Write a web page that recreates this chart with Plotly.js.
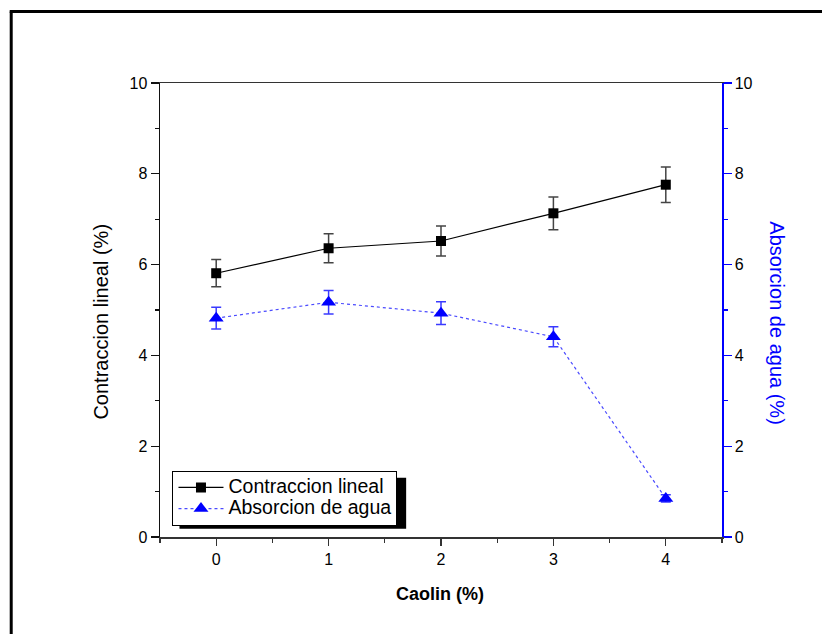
<!DOCTYPE html>
<html>
<head>
<meta charset="utf-8">
<script src="https://cdn.plot.ly/plotly-3.0.1.min.js"></script>
<style>html,body{margin:0;padding:0;background:#fff;}#chart{width:822px;height:634px;}</style>
</head>
<body>
<div id="chart"></div>
<script>
const caolin = [0, 1, 2, 3, 4];
const contraccion = [5.81, 6.36, 6.52, 7.13, 7.76];
const contraccionErr = [0.30, 0.32, 0.33, 0.36, 0.39];
const absorcion = [4.82, 5.17, 4.93, 4.41, 0.85];
const absorcionErr = [0.24, 0.26, 0.25, 0.22, 0.08];
const yTicks = [0, 2, 4, 6, 8, 10];
const xTicks = [0, 1, 2, 3, 4];
const seriesNames = ['Contraccion lineal', 'Absorcion de agua'];

const FONT = 'Liberation Sans, Arial, sans-serif';
const big = s => '<span style="font-size:19.5px">' + s + '</span>';

const traces = [
  {
    x: caolin, y: contraccion, name: big(seriesNames[0]), type: 'scatter', mode: 'lines+markers',
    line: {color: '#000', width: 1.2},
    marker: {symbol: 'square', size: 10, color: '#000'},
    error_y: {type: 'data', array: contraccionErr, visible: true, color: '#444', thickness: 1.5, width: 5},
    xaxis: 'x', yaxis: 'y'
  },
  {
    x: caolin, y: absorcion, name: big(seriesNames[1]), type: 'scatter', mode: 'lines+markers',
    line: {color: '#4a4aff', width: 1.2, dash: 'dot'},
    marker: {symbol: 'triangle-up', size: 13, color: '#0000ff'},
    error_y: {type: 'data', array: absorcionErr, visible: true, color: '#3a3aff', thickness: 1.5, width: 5},
    xaxis: 'x', yaxis: 'y2'
  }
];

const L = 159.5, R = 822 - 722.3, T = 82.7, B = 634 - 537.3;
const W = 822 - L - R, H = 634 - T - B;
const px = v => (v - L) / W;
const py = v => (634 - B - v) / H;

const layout = {
  width: 822, height: 634,
  margin: {l: L, r: R, t: T, b: B, pad: 0},
  paper_bgcolor: '#fff', plot_bgcolor: '#fff',
  font: {family: FONT, size: 16, color: '#000'},
  showlegend: true,
  legend: {
    x: px(172), y: py(471), xanchor: 'left', yanchor: 'top',
    bgcolor: '#fff', bordercolor: '#000', borderwidth: 1,
    font: {family: FONT, size: 14, color: '#000'},
    tracegroupgap: 0, itemwidth: 45
  },
  xaxis: {
    range: [-0.5, 4.5], tickvals: xTicks, ticktext: xTicks.map(String),
    showgrid: false, zeroline: false,
    showline: true, linecolor: '#333', linewidth: 1.5, mirror: true,
    ticks: 'outside', ticklen: 7, tickwidth: 1.2, tickcolor: '#333',
    minor: {dtick: 0.5, tick0: -0.5, ticks: 'outside', ticklen: 4, tickwidth: 1.2, tickcolor: '#333', showgrid: false},
    tickfont: {family: FONT, size: 16, color: '#000'}
  },
  yaxis: {
    range: [0, 10], tickvals: yTicks, ticktext: yTicks.map(String),
    showgrid: false, zeroline: false,
    showline: true, linecolor: '#111', linewidth: 1.5,
    ticks: 'outside', ticklen: 8, tickwidth: 1.2, tickcolor: '#111',
    minor: {dtick: 1, ticks: 'outside', ticklen: 4, tickwidth: 1.2, tickcolor: '#111', showgrid: false},
    tickfont: {family: FONT, size: 16, color: '#000'}
  },
  yaxis2: {
    range: [0, 10], tickvals: yTicks, ticktext: yTicks.map(String),
    overlaying: 'y', side: 'right', anchor: 'x',
    showgrid: false, zeroline: false,
    showline: true, linecolor: '#0000ff', linewidth: 1.5,
    ticks: 'outside', ticklen: 8, tickwidth: 1.2, tickcolor: '#0000ff',
    minor: {dtick: 1, ticks: 'outside', ticklen: 4, tickwidth: 1.2, tickcolor: '#0000ff', showgrid: false},
    tickfont: {family: FONT, size: 16, color: '#000'}
  },
  annotations: [
    {text: 'Contraccion lineal (%)', xref: 'paper', yref: 'paper', x: px(100), y: py(322),
     xanchor: 'center', yanchor: 'middle',
     textangle: -90, showarrow: false, font: {family: FONT, size: 20, color: '#000'}},
    {text: 'Absorcion de agua (%)', xref: 'paper', yref: 'paper', x: px(777), y: py(323),
     xanchor: 'center', yanchor: 'middle',
     textangle: 90, showarrow: false, font: {family: FONT, size: 20, color: '#0000ff'}},
    {text: '<b>Caolin (%)</b>', xref: 'paper', yref: 'paper', x: px(440), y: py(594),
     xanchor: 'center', yanchor: 'middle',
     showarrow: false, font: {family: FONT, size: 18, color: '#000'}}
  ],
  shapes: [
    {type: 'line', xref: 'paper', yref: 'paper', x0: px(10.5), x1: px(10.5), y0: py(11), y1: py(700),
     line: {color: '#000', width: 3}},
    {type: 'line', xref: 'paper', yref: 'paper', x0: px(9), x1: px(900), y0: py(11), y1: py(11),
     line: {color: '#000', width: 3}},
    {type: 'rect', xref: 'paper', yref: 'paper', x0: px(179), x1: px(406), y0: py(478), y1: py(529),
     fillcolor: '#000', line: {width: 0}, layer: 'above'}
  ]
};

Plotly.newPlot('chart', traces, layout, {displayModeBar: false, staticPlot: true});
</script>
</body>
</html>
